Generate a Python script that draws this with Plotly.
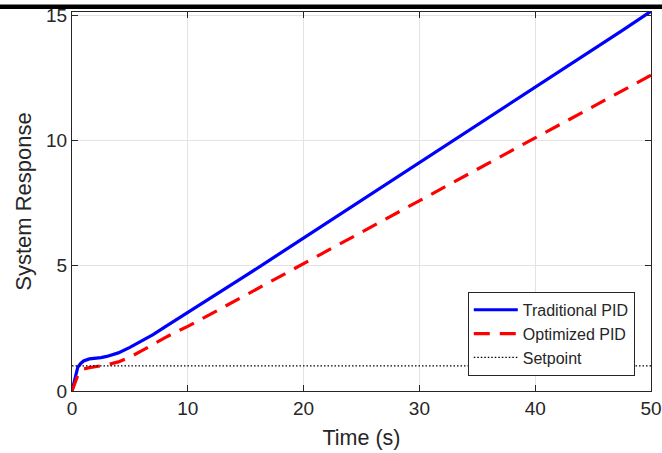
import plotly.graph_objects as go

# Data
t_trad = [0, 0.25, 0.5, 0.75, 1, 1.5, 2, 2.5, 3, 3.5, 4, 5, 6, 7, 8, 9, 10, 12.5, 15, 17.5, 20, 22.5, 25, 27.5, 30, 32.5, 35, 37.5, 40, 42.5, 45, 47.5, 50]
y_trad = [0, 0.55, 0.95, 1.1, 1.2, 1.28, 1.3, 1.33, 1.38, 1.45, 1.52, 1.74, 1.98, 2.25, 2.55, 2.84, 3.12, 3.85, 4.6, 5.35, 6.1, 6.85, 7.6, 8.35, 9.1, 9.85, 10.6, 11.35, 12.1, 12.85, 13.6, 14.38, 15.15]

t_opt = [0, 0.25, 0.5, 0.75, 1, 1.5, 2, 2.5, 3, 4, 5, 6, 7, 8, 9, 10, 12.5, 15, 17.5, 20, 22.5, 25, 27.5, 30, 32.5, 35, 37.5, 40, 42.5, 45, 47.5, 50]
y_opt = [0, 0.35, 0.62, 0.8, 0.88, 0.93, 0.96, 1.0, 1.04, 1.16, 1.35, 1.6, 1.87, 2.12, 2.36, 2.58, 3.2, 3.83, 4.46, 5.09, 5.72, 6.35, 6.98, 7.61, 8.24, 8.87, 9.5, 10.1, 10.72, 11.35, 11.98, 12.6]

t_set = [0, 50]
y_set = [1, 1]

x_ticks = [0, 10, 20, 30, 40, 50]
y_ticks = [0, 5, 10, 15]

fig = go.Figure()
fig.add_trace(go.Scatter(x=t_trad, y=y_trad, mode="lines", name="Traditional PID",
                         line=dict(color="#0000ff", width=3.2)))
fig.add_trace(go.Scatter(x=t_opt, y=y_opt, mode="lines", name="Optimized PID",
                         line=dict(color="#ff0000", width=3.2, dash="16px,10px")))
fig.add_trace(go.Scatter(x=t_set, y=y_set, mode="lines", name="Setpoint",
                         line=dict(color="#000000", width=1.3, dash="1.5px,2px")))

axis_common = dict(showgrid=True, gridcolor="#e3e3e3", gridwidth=1,
                   showline=True, linecolor="#262626", linewidth=1, mirror="ticks",
                   ticks="inside", ticklen=6, tickcolor="#262626",
                   zeroline=False, automargin=False,
                   tickfont=dict(size=19, color="#262626"))

fig.update_xaxes(range=[0, 50], tickvals=x_ticks, **axis_common,
                 title=dict(text="Time (s)", font=dict(size=21.5, color="#262626"), standoff=12))
fig.update_yaxes(range=[0, 15.12], tickvals=y_ticks, **axis_common,
                 title=dict(text="System Response", font=dict(size=22, color="#262626"), standoff=8))

fig.update_layout(
    width=662, height=453,
    margin=dict(l=72, r=11, t=12, b=62),
    paper_bgcolor="white", plot_bgcolor="white",
    font=dict(family="Liberation Sans, Arial, sans-serif", color="#262626"),
    legend=dict(x=0.972, y=0.04, xanchor="right", yanchor="bottom",
                bgcolor="white", bordercolor="#262626", borderwidth=1,
                font=dict(size=16, color="#262626"), tracegroupgap=0,
                itemwidth=44),
    showlegend=True,
)

# dark bar at the very top of the image (cropped page element)
fig.add_shape(type="rect", xref="paper", yref="paper",
              x0=-72/579, x1=(662-72)/579, y0=1 + 3/379, y1=1 + 7.5/379,
              fillcolor="black", line=dict(width=0), layer="above")

fig.write_html("out.html", config={"displayModeBar": False},
               post_script="document.body.style.margin='0';document.body.style.padding='0';")
